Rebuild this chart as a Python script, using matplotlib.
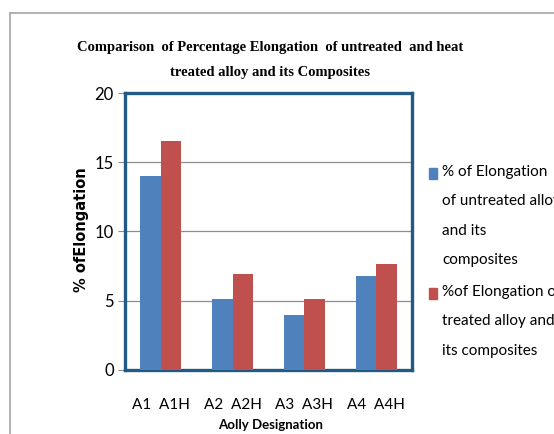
import matplotlib.pyplot as plt
import numpy as np
from matplotlib.patches import Rectangle
from matplotlib.lines import Line2D

# data
categories = ["A1  A1H", "A2  A2H", "A3  A3H", "A4  A4H"]
untreated = [14.0, 5.15, 3.95, 6.8]
treated = [16.5, 6.9, 5.15, 7.65]

legend_labels = [
    "% of Elongation\nof untreated alloy\nand its\ncomposites",
    "%of Elongation of\ntreated alloy and\nits composites",
]

blue = "#4F81BD"
red = "#C0504D"
frame = "#215A85"

sans = ["Lato", "DejaVu Sans"]

fig = plt.figure(figsize=(5.54, 4.34), dpi=100)
ax = fig.add_axes([0.2256, 0.1475, 0.5181, 0.6382])

x = np.arange(len(categories))
w = 0.286
ax.bar(x - w / 2, untreated, w, color=blue, zorder=3)
ax.bar(x + w / 2, treated, w, color=red, zorder=3)

ax.set_xlim(-0.5, len(categories) - 0.5)
ax.set_ylim(0, 20)
ax.set_yticks([0, 5, 10, 15, 20])
ax.yaxis.grid(True, color="#8C8C8C", linewidth=0.9, zorder=0)
ax.set_axisbelow(True)

ax.set_xticks(x)
ax.set_xticklabels(categories, family=sans, fontsize=11)
ax.tick_params(axis="x", length=0, pad=20)
ax.tick_params(axis="y", length=5, color="#8C8C8C", pad=3)
for t in ax.get_yticklabels():
    t.set_family(sans)
    t.set_fontsize(12)

for s in ax.spines.values():
    s.set_color(frame)
    s.set_linewidth(2.4)

fig.text(0.489, 0.02, "Aolly Designation", ha="center", va="center",
         family=sans, fontsize=9.5, fontweight="bold")
fig.text(0.148, 0.47, "% ofElongation", rotation=90, ha="center", va="center",
         fontsize=10.5, fontweight="bold", family="DejaVu Sans")

fig.text(0.487, 0.862,
         "Comparison  of Percentage Elongation  of untreated  and heat\ntreated alloy and its Composites",
         ha="center", va="center", family="Liberation Serif", fontweight="bold", fontsize=10.5,
         linespacing=2.2)

# outer chart frame (cut off at right and bottom like the reference)
fig.add_artist(Line2D([0.018, 1.0], [0.97, 0.97], color="#A6A6A6", linewidth=1.2))
fig.add_artist(Line2D([0.018, 0.018], [0.0, 0.97], color="#A6A6A6", linewidth=1.2))

# legend: swatch next to the first line of each wrapped label
W, H = 554.0, 434.0
for color, label, top in zip([blue, red], legend_labels, [165, 285]):
    fig.add_artist(Rectangle((429 / W, 1 - (top + 14) / H), 8 / W, 11 / H,
                             transform=fig.transFigure, color=color))
    fig.text(442 / W, 1 - top / H, label, ha="left", va="top",
             family=sans, fontsize=11, linespacing=2.4)

fig.savefig("out.png", dpi=100)
